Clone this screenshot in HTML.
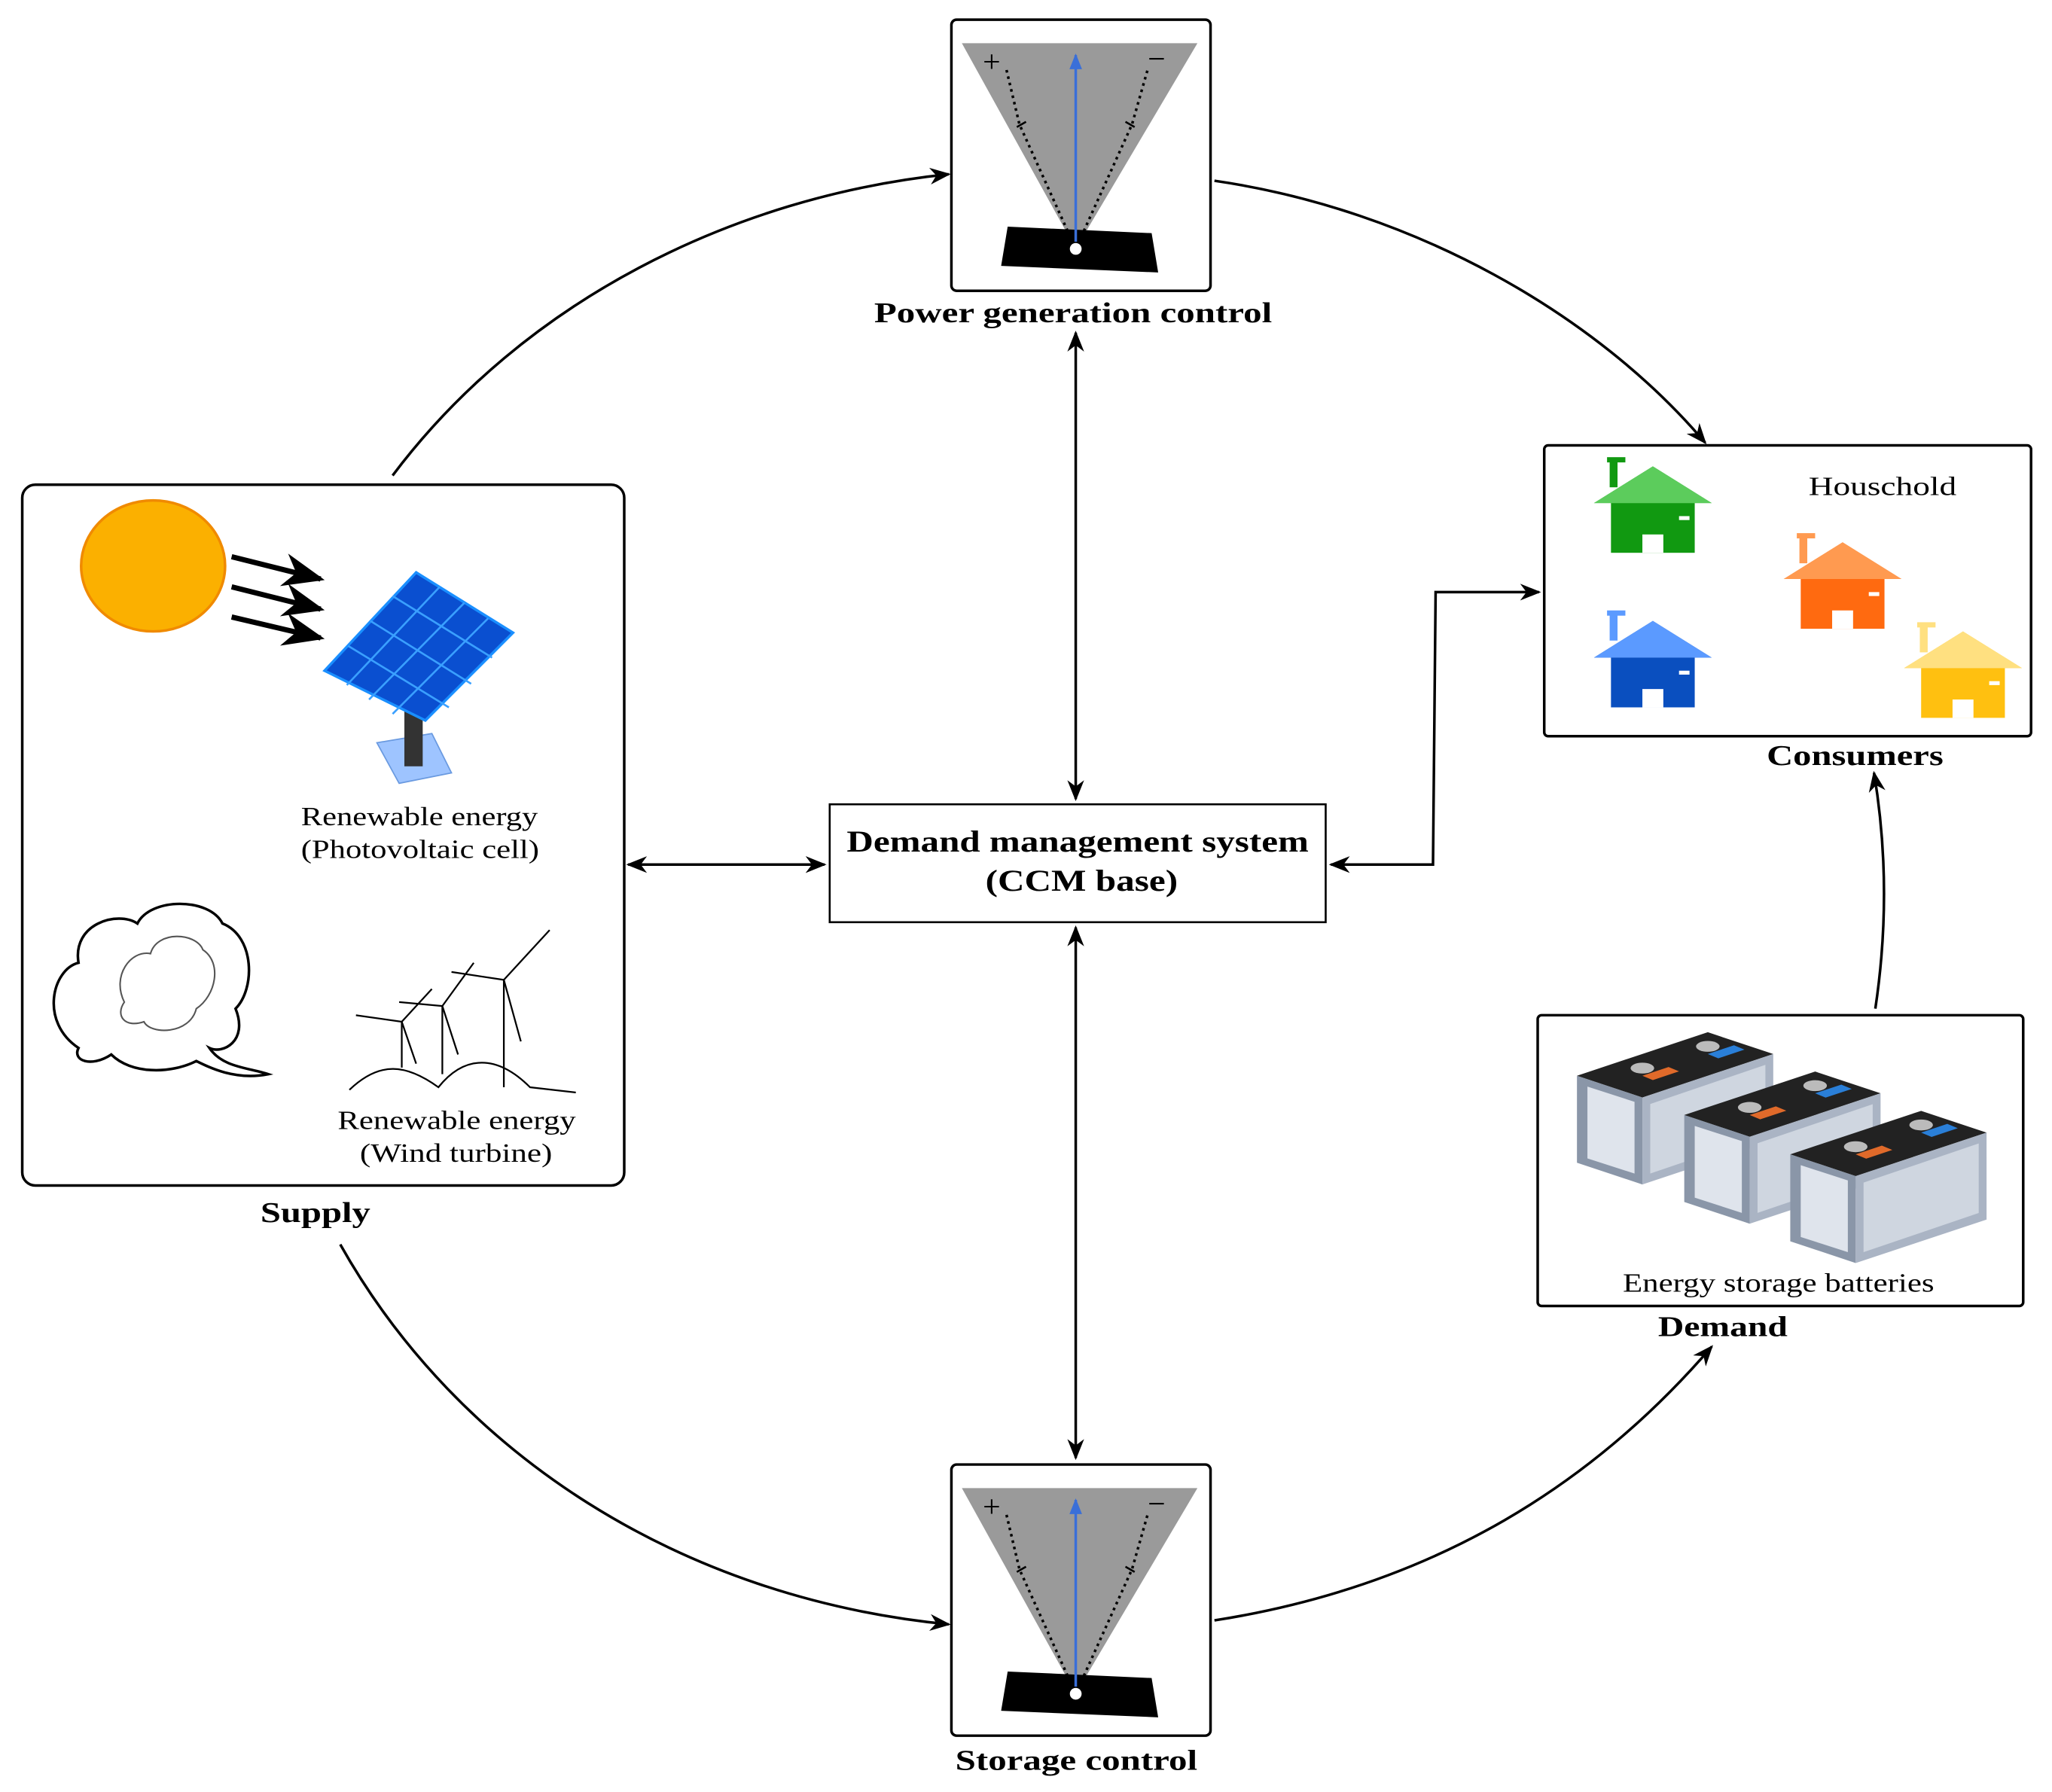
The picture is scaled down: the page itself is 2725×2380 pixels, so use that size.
<!DOCTYPE html>
<html><head><meta charset="utf-8"><style>
html,body{margin:0;padding:0;background:#fff;}
svg{display:block;}
text{font-family:"Liberation Serif",serif;}
</style></head><body>
<svg width="2725" height="2380" viewBox="0 0 1568 1368" preserveAspectRatio="none" xmlns="http://www.w3.org/2000/svg">
<defs>
<marker id="a" viewBox="0 0 10 10" refX="9" refY="5" markerWidth="8" markerHeight="8" orient="auto-start-reverse"><path d="M0,1 L10,5 L0,9 L3,5 z" fill="#000"/></marker>
<marker id="b" viewBox="0 0 10 10" refX="9" refY="5" markerWidth="6" markerHeight="6" orient="auto"><path d="M0,1 L10,5 L0,9 z" fill="#3a6fd8"/></marker>
<g id="gauge">
<rect x="0" y="0" width="198" height="207" rx="4" fill="#fff" stroke="#000" stroke-width="2"/>
<polygon points="8,18 188,18 95,175" fill="#9a9a9a"/>
<polygon points="43,158 153,163 158,193 38,188" fill="#000"/>
<line x1="95" y1="175" x2="95" y2="27" stroke="#3a6fd8" stroke-width="2" marker-end="url(#b)"/>
<polyline points="95,175 52,80 42,38" fill="none" stroke="#000" stroke-width="2" stroke-dasharray="2,3"/>
<polyline points="95,175 138,80 150,38" fill="none" stroke="#000" stroke-width="2" stroke-dasharray="2,3"/>
<line x1="50" y1="82" x2="57" y2="78" stroke="#000" stroke-width="1.5"/>
<line x1="140" y1="82" x2="133" y2="78" stroke="#000" stroke-width="1.5"/>
<circle cx="95" cy="175" r="5" fill="#fff" stroke="#000"/>
<text x="24" y="40" font-size="24" font-family="Liberation Sans">+</text>
<text x="150" y="38" font-size="24" font-family="Liberation Sans">−</text>
</g>
<g id="house">
<polygon points="-45,0 0,-28 45,0"/>
<rect x="-32" y="0" width="64" height="38"/>
<rect x="-8" y="24" width="16" height="14" fill="#fff"/>
<rect x="20" y="10" width="8" height="3" fill="#fff"/>
</g>
<g id="batt">
<polygon points="0,40 100,0 150,20 50,60" fill="#222"/>
<polygon points="0,40 50,60 50,140 0,120" fill="#8a96a8"/>
<polygon points="50,60 150,20 150,100 50,140" fill="#aab4c4"/>
<polygon points="8,50 44,64 44,130 8,116" fill="#dfe4ec"/>
<polygon points="56,66 144,30 144,94 56,130" fill="#cfd6e0"/>
<polygon points="50,40 70,32 78,36 58,44" fill="#e06a2a"/>
<polygon points="100,20 120,12 128,16 108,24" fill="#2a7fd8"/>
<ellipse cx="50" cy="33" rx="9" ry="5" fill="#bbb"/>
<ellipse cx="100" cy="13" rx="9" ry="5" fill="#bbb"/>
</g>
</defs>

<path d="M300,363 C400,230 560,150 725,133" fill="none" stroke="#000" stroke-width="2" marker-end="url(#a)"/>
<path d="M928,138 C1080,160 1220,240 1303,338" fill="none" stroke="#000" stroke-width="2" marker-end="url(#a)"/>
<path d="M260,950 C350,1110 520,1220 725,1240" fill="none" stroke="#000" stroke-width="2" marker-end="url(#a)"/>
<path d="M928,1237 C1100,1210 1220,1130 1308,1028" fill="none" stroke="#000" stroke-width="2" marker-end="url(#a)"/>
<path d="M1433,770 C1442,710 1442,650 1432,590" fill="none" stroke="#000" stroke-width="2" marker-end="url(#a)"/>
<line x1="822" y1="254" x2="822" y2="610" stroke="#000" stroke-width="2" marker-start="url(#a)" marker-end="url(#a)"/>
<line x1="822" y1="708" x2="822" y2="1113" stroke="#000" stroke-width="2" marker-start="url(#a)" marker-end="url(#a)"/>
<line x1="480" y1="660" x2="630" y2="660" stroke="#000" stroke-width="2" marker-start="url(#a)" marker-end="url(#a)"/>
<polyline points="1017,660 1095,660 1097,452 1176,452" fill="none" stroke="#000" stroke-width="2" marker-start="url(#a)" marker-end="url(#a)"/>

<use href="#gauge" x="727" y="15"/>
<use href="#gauge" x="727" y="1118"/>
<text x="668" y="246" font-size="22" font-weight="bold" textLength="304" lengthAdjust="spacingAndGlyphs">Power generation control</text>
<text x="730" y="1351" font-size="22" font-weight="bold" textLength="185" lengthAdjust="spacingAndGlyphs">Storage control</text>

<rect x="17" y="370" width="460" height="535" rx="10" fill="#fff" stroke="#000" stroke-width="2"/>
<ellipse cx="117" cy="432" rx="55" ry="50" fill="#FBB000" stroke="#f08a00" stroke-width="2"/>
<g stroke="#000" stroke-width="4" marker-end="url(#a)">
<line x1="177" y1="425" x2="245" y2="442"/>
<line x1="177" y1="448" x2="245" y2="465"/>
<line x1="177" y1="471" x2="245" y2="487"/>
</g>
<polygon points="288,567 330,560 345,590 305,598" fill="#9ec4ff" stroke="#6a9ae0"/>
<rect x="309" y="540" width="14" height="45" fill="#333"/>
<polygon points="248,512 318,437 392,483 325,550" fill="#0a4fd0" stroke="#1a8fff" stroke-width="2"/>
<g stroke="#3aa0ff" stroke-width="1.5">
<line x1="265" y1="523" x2="336" y2="448"/><line x1="282" y1="534" x2="355" y2="460"/><line x1="300" y1="545" x2="373" y2="472"/>
<line x1="266" y1="493" x2="343" y2="540"/><line x1="283" y1="474" x2="360" y2="522"/><line x1="300" y1="455" x2="376" y2="502"/>
</g>
<text x="230" y="630" font-size="20" textLength="181" lengthAdjust="spacingAndGlyphs">Renewable energy</text>
<text x="230" y="655" font-size="20" textLength="182" lengthAdjust="spacingAndGlyphs">(Photovoltaic cell)</text>
<path d="M60,800 C30,780 40,740 60,735 C55,705 90,695 105,705 C115,685 160,685 170,705 C195,715 195,755 180,770 C190,795 170,805 160,800 C170,815 190,815 205,820 C180,825 160,815 150,810 C130,820 100,820 85,805 C70,815 55,810 60,800 Z" fill="#fff" stroke="#000" stroke-width="2"/>
<path d="M95,765 C85,745 100,725 115,728 C120,710 150,712 155,725 C170,735 165,760 150,770 C145,790 115,790 110,780 C95,785 88,775 95,765 Z" fill="none" stroke="#555" stroke-width="1.2"/>
<g stroke="#000" stroke-width="1.3" fill="none">
<path d="M267,832 C290,810 310,812 335,830 C355,805 380,805 405,830 L440,834"/>
<line x1="385" y1="748" x2="385" y2="830"/><line x1="385" y1="748" x2="420" y2="710"/><line x1="385" y1="748" x2="345" y2="742"/><line x1="385" y1="748" x2="398" y2="795"/>
<line x1="338" y1="768" x2="338" y2="820"/><line x1="338" y1="768" x2="362" y2="735"/><line x1="338" y1="768" x2="305" y2="765"/><line x1="338" y1="768" x2="350" y2="805"/>
<line x1="307" y1="780" x2="307" y2="815"/><line x1="307" y1="780" x2="330" y2="755"/><line x1="307" y1="780" x2="272" y2="775"/><line x1="307" y1="780" x2="318" y2="812"/>
</g>
<text x="258" y="862" font-size="20" textLength="182" lengthAdjust="spacingAndGlyphs">Renewable energy</text>
<text x="275" y="887" font-size="20" textLength="147" lengthAdjust="spacingAndGlyphs">(Wind turbine)</text>
<text x="199" y="933" font-size="22" font-weight="bold" textLength="84" lengthAdjust="spacingAndGlyphs">Supply</text>

<rect x="634" y="614" width="379" height="90" fill="#fff" stroke="#000" stroke-width="1.5"/>
<text x="647" y="650" font-size="23" font-weight="bold" textLength="353" lengthAdjust="spacingAndGlyphs">Demand management system</text>
<text x="753" y="680" font-size="23" font-weight="bold" textLength="147" lengthAdjust="spacingAndGlyphs">(CCM base)</text>

<rect x="1180" y="340" width="372" height="222" rx="3" fill="#fff" stroke="#000" stroke-width="2"/>
<rect x="1230" y="350" width="6" height="22" fill="#119911"/><rect x="1228" y="349" width="14" height="4" fill="#119911"/>
<g fill="#119911"><use href="#house" x="1263" y="384"/></g>
<polygon points="1218,384 1263,356 1308,384" fill="#5ccc5c"/>
<rect x="1375" y="408" width="6" height="22" fill="#ff9a50"/><rect x="1373" y="407" width="14" height="4" fill="#ff9a50"/>
<g fill="#ff6a10"><use href="#house" x="1408" y="442"/></g>
<polygon points="1363,442 1408,414 1453,442" fill="#ff9a50"/>
<rect x="1230" y="467" width="6" height="22" fill="#5b9aff"/><rect x="1228" y="466" width="14" height="4" fill="#5b9aff"/>
<g fill="#0a4fbf"><use href="#house" x="1263" y="502"/></g>
<polygon points="1218,502 1263,474 1308,502" fill="#5b9aff"/>
<rect x="1467" y="476" width="6" height="22" fill="#ffe080"/><rect x="1465" y="475" width="14" height="4" fill="#ffe080"/>
<g fill="#ffc010"><use href="#house" x="1500" y="510"/></g>
<polygon points="1455,510 1500,482 1545,510" fill="#ffe080"/>
<text x="1382" y="378" font-size="20" textLength="113" lengthAdjust="spacingAndGlyphs">Houschold</text>
<text x="1350" y="584" font-size="22" font-weight="bold" textLength="135" lengthAdjust="spacingAndGlyphs">Consumers</text>

<rect x="1175" y="775" width="371" height="222" rx="3" fill="#fff" stroke="#000" stroke-width="2"/>
<use href="#batt" transform="translate(1205,788) scale(1,0.83)"/>
<use href="#batt" transform="translate(1287,818) scale(1,0.83)"/>
<use href="#batt" transform="translate(1368,848) scale(1,0.83)"/>
<text x="1240" y="986" font-size="20" textLength="238" lengthAdjust="spacingAndGlyphs">Energy storage batteries</text>
<text x="1267" y="1020" font-size="22" font-weight="bold" textLength="99" lengthAdjust="spacingAndGlyphs">Demand</text>
</svg>
</body></html>
